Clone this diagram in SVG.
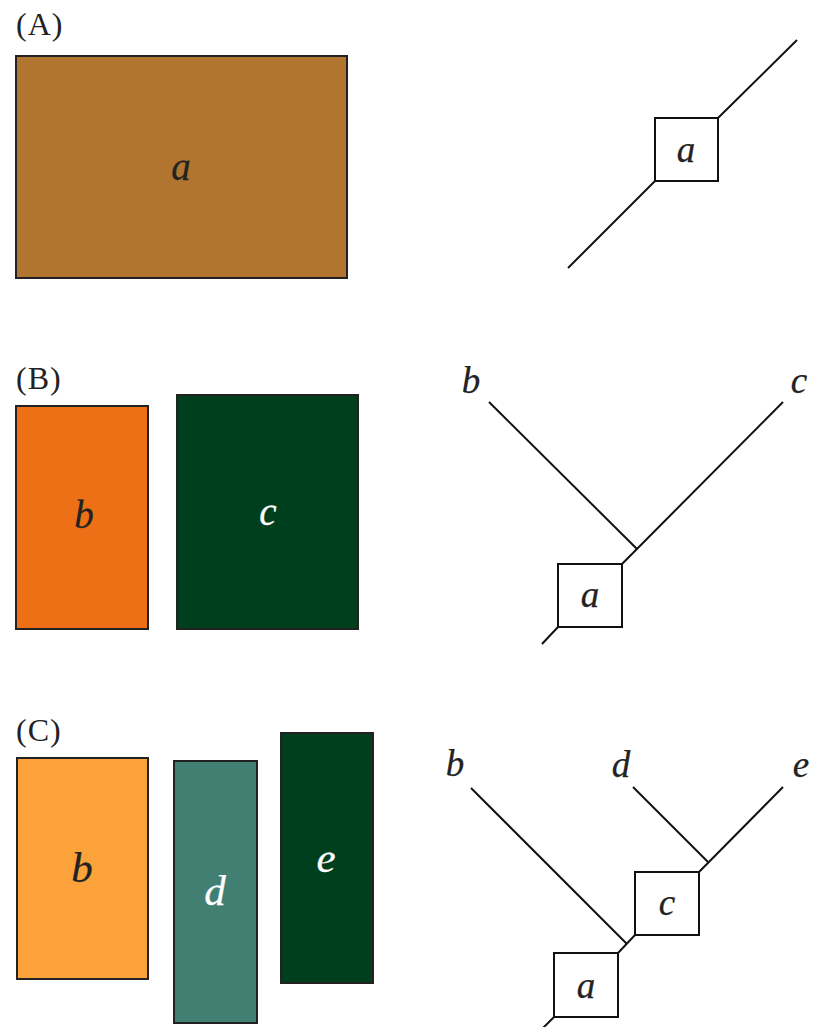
<svg xmlns="http://www.w3.org/2000/svg" width="816" height="1027" viewBox="0 0 816 1027">
  <style>
    .panel { font-family: "Liberation Serif", "DejaVu Serif", serif; font-size: 32px; letter-spacing: 1px; fill: #222; }
    .lab { font-family: "Liberation Serif", "DejaVu Serif", serif; font-style: italic; text-anchor: middle; stroke-width: 0.25; }
    .s37 { font-size: 37px; }
    .s39 { font-size: 39px; }
    .s43 { font-size: 43px; }
    .dark { fill: #222; stroke: #222; }
    .light { fill: #ffffff; stroke: #ffffff; }
    .block { stroke: #222; stroke-width: 2; }
    .node rect { fill: #ffffff; stroke: #111; stroke-width: 2; }
    .edge { stroke: #111; stroke-width: 2; fill: none; }
  </style>

  <!-- Panel titles -->
  <text class="panel" x="16" y="35">(A)</text>
  <text class="panel" x="16" y="389">(B)</text>
  <text class="panel" x="16" y="741">(C)</text>

  <!-- Panel A: single area -->
  <g id="areaA">
    <rect class="block" x="16" y="56" width="331" height="222" fill="#B27530"/>
    <text class="lab dark s39" x="181" y="180">a</text>
  </g>

  <!-- Panel B: split areas -->
  <g id="areaB-b">
    <rect class="block" x="16" y="406" width="132" height="223" fill="#EE7016"/>
    <text class="lab dark s39" x="84" y="528">b</text>
  </g>
  <g id="areaB-c">
    <rect class="block" x="177" y="395" width="181" height="234" fill="#003F1E"/>
    <text class="lab light s39" x="268" y="525">c</text>
  </g>

  <!-- Panel C: further split -->
  <g id="areaC-b">
    <rect class="block" x="17" y="758" width="131" height="221" fill="#FBA33A"/>
    <text class="lab dark s43" x="82" y="882">b</text>
  </g>
  <g id="areaC-d">
    <rect class="block" x="174" y="761" width="83" height="262" fill="#417F73"/>
    <text class="lab light s43" x="215" y="905">d</text>
  </g>
  <g id="areaC-e">
    <rect class="block" x="281" y="733" width="92" height="250" fill="#003F1E"/>
    <text class="lab light s43" x="326" y="872">e</text>
  </g>

  <!-- Tree connectors -->
  <g id="connectors">
    <!-- A -->
    <line class="edge" x1="568" y1="268" x2="655" y2="181"/>
    <line class="edge" x1="718" y1="118" x2="797" y2="40"/>
    <!-- B -->
    <line class="edge" x1="542" y1="644" x2="558" y2="627"/>
    <line class="edge" x1="622" y1="564" x2="783" y2="402"/>
    <line class="edge" x1="489" y1="402" x2="637" y2="549"/>
    <!-- C -->
    <line class="edge" x1="543" y1="1028" x2="554" y2="1017"/>
    <line class="edge" x1="618" y1="953" x2="635" y2="935"/>
    <line class="edge" x1="471" y1="788" x2="627" y2="944"/>
    <line class="edge" x1="699" y1="872" x2="783" y2="787"/>
    <line class="edge" x1="633" y1="787" x2="708" y2="862"/>
  </g>

  <!-- Tree nodes -->
  <g id="treeA-a" class="node">
    <rect x="655" y="118" width="63" height="63"/>
    <text class="lab dark s37" x="686" y="162">a</text>
  </g>
  <g id="treeB-a" class="node">
    <rect x="558" y="564" width="64" height="63"/>
    <text class="lab dark s37" x="590" y="607">a</text>
  </g>
  <text class="lab dark s37" x="471" y="393">b</text>
  <text class="lab dark s37" x="799" y="393">c</text>

  <g id="treeC-c" class="node">
    <rect x="635" y="872" width="64" height="63"/>
    <text class="lab dark s37" x="667" y="915">c</text>
  </g>
  <g id="treeC-a" class="node">
    <rect x="554" y="953" width="64" height="64"/>
    <text class="lab dark s37" x="586" y="998">a</text>
  </g>
  <text class="lab dark s37" x="455" y="776">b</text>
  <text class="lab dark s37" x="621" y="777">d</text>
  <text class="lab dark s37" x="801" y="777">e</text>
</svg>
